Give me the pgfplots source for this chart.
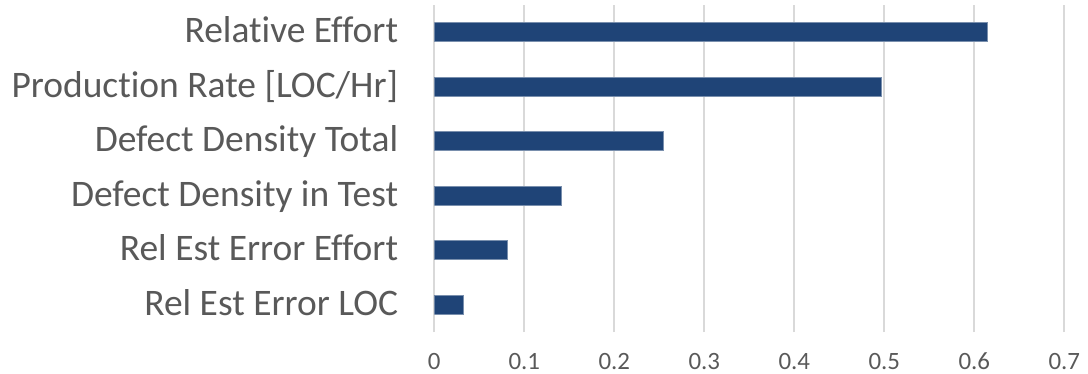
\documentclass[border=0pt]{standalone}
\usepackage{pgfplots}
\pgfplotsset{compat=1.18}
\usepackage{fontspec}
\setmainfont[Ligatures={NoCommon}]{Carlito}
\definecolor{barblue}{HTML}{1F4477}
\definecolor{txtgray}{HTML}{595959}
\definecolor{gridgray}{HTML}{D9D9D9}
\begin{document}
\begin{tikzpicture}
\begin{axis}[
  scale only axis,
  width=630bp, height=327bp,
  xbar,
  bar width=19bp,
  xmin=0, xmax=0.7,
  ymin=-0.5, ymax=5.5,
  axis line style={draw=none},
  major tick length=0pt,
  xtick={0,0.1,0.2,0.3,0.4,0.5,0.6,0.7},
  xticklabels={0,0.1,0.2,0.3,0.4,0.5,0.6,0.7},
  ytick={0,1,2,3,4,5},
  yticklabels={Rel Est Error LOC,Rel Est Error Effort,Defect Density in Test,Defect Density Total,Production Rate [LOC/Hr],Relative Effort},
  xmajorgrids,
  major grid style={draw=gridgray, line width=2bp},
  xticklabel style={font=\fontsize{25}{29}\selectfont, text=txtgray, inner sep=0pt, anchor=base, yshift=-37bp},
  yticklabel style={font=\fontsize{37.6}{42}\selectfont, text=txtgray, inner sep=0pt, anchor=base east, yshift=-10.5bp, xshift=-36bp},
]
\addplot[fill=barblue, draw=barblue!60!white, line width=0.5bp] coordinates {
  (0.0322,0) (0.0811,1) (0.1408,2) (0.2549,3) (0.497,4) (0.6144,5)
};
\end{axis}
\pgfresetboundingbox
\path (current axis.south west) ++(-434.3bp,-42bp) rectangle ++(1088bp,374bp);
\end{tikzpicture}
\end{document}
